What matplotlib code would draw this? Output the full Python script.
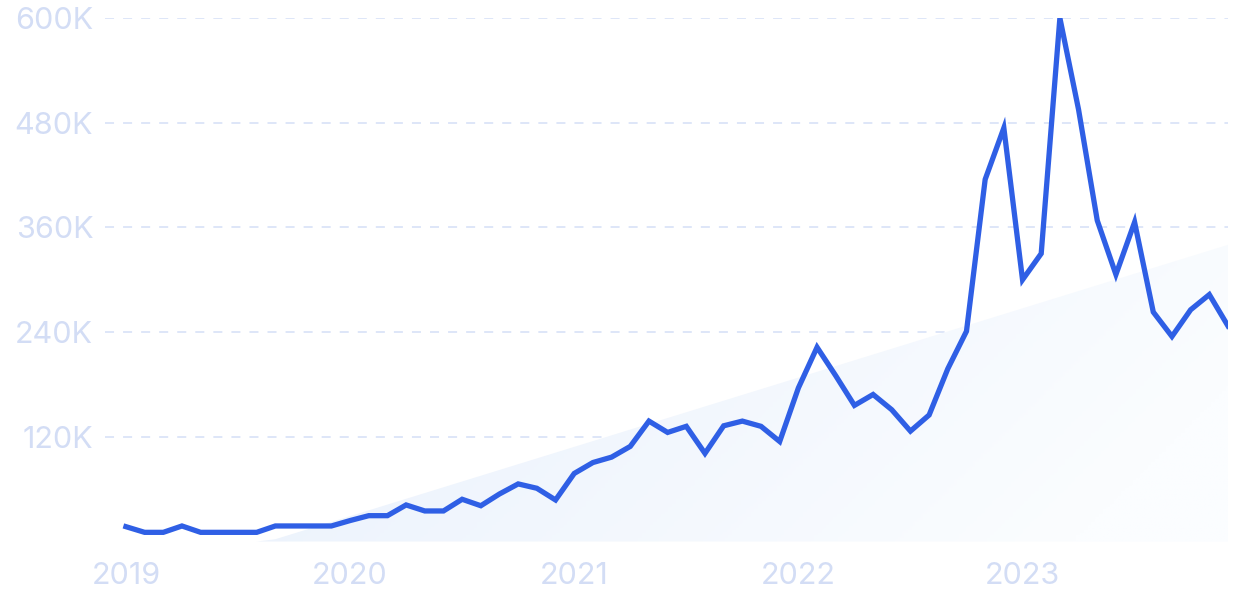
import numpy as np
import matplotlib
matplotlib.use("Agg")
import matplotlib.pyplot as plt
from matplotlib.colors import LinearSegmentedColormap
from matplotlib.patches import PathPatch

# Monthly values, Jan 2019 .. Dec 2023 (in thousands)
values_k = [17, 10.5, 10.5, 17.8, 10.5, 10.5, 10.5, 10.5, 17.8, 17.8, 17.8, 17.8,
            24, 29.6, 29.6, 41.9, 35, 35, 48.4, 41, 54.5, 66, 61, 47.6,
            78, 90.5, 96.7, 109, 138, 125, 132, 101, 132.6, 138, 132, 114.6,
            176, 222.6, 190, 156, 168.5, 151, 126.5, 145, 198, 241,
            415, 474, 300, 330, 600, 495, 368, 306, 366, 263, 235, 265.6, 283, 247]
trend_ends_k = [-50.3, 340.0]   # linear trend at first and last month
year_labels = ["2019", "2020", "2021", "2022", "2023"]
y_ticks_k = [120, 240, 360, 480, 600]

values = np.array(values_k) * 1000
idx = np.arange(len(values))
trend = np.linspace(trend_ends_k[0], trend_ends_k[1], len(values)) * 1000
trend_c = np.clip(trend, 0, None)

fig = plt.figure(figsize=(12.34, 6.16), dpi=100)
ax = fig.add_axes([105/1234, 1 - 541.5/616, (1228-105)/1234, (541.5-18)/616])
xmin, xmax = -1.12, len(values) - 1
ax.set_xlim(xmin, xmax)
ax.set_ylim(0, 600000)

# gradient-filled trend area
poly = ax.fill_between(idx, 0, trend_c, color="none", lw=0)
cmap = LinearSegmentedColormap.from_list("g", ["#e2ecfb", "#fbfdff"])
gx, gy = np.meshgrid(np.linspace(0, 1, 300), np.linspace(1, 0, 200))
grad = 0.75 * gx + 0.35 * (1 - gy)
im = ax.imshow(grad, cmap=cmap, extent=[xmin, xmax, 0, 600000], aspect="auto",
               origin="upper", zorder=1, vmin=0, vmax=1)
patch = PathPatch(poly.get_paths()[0], transform=ax.transData,
                  facecolor="none", edgecolor="none")
ax.add_patch(patch)
im.set_clip_path(patch)

for t in y_ticks_k:
    ax.axhline(t * 1000, color="#dbe4f8", lw=1.3, ls=(0, (5, 5)), zorder=0.5)

ax.plot(idx, values, color="#2f5fe5", lw=3.8, solid_joinstyle="miter", zorder=3)

for s in ax.spines.values():
    s.set_visible(False)
ax.tick_params(length=0)
lab_color = "#d3ddf5"
ax.set_yticks([t * 1000 for t in y_ticks_k])
ax.set_yticklabels([f"{t}K" for t in y_ticks_k], fontsize=22, color=lab_color,
                   family="Inter")
ax.tick_params(axis="y", pad=8.5)
ax.set_xticks([i * 12 for i in range(len(year_labels))])
ax.set_xticklabels(year_labels, fontsize=22, color=lab_color, family="Inter")
ax.tick_params(axis="x", pad=15)

fig.savefig("out.png", dpi=100)
